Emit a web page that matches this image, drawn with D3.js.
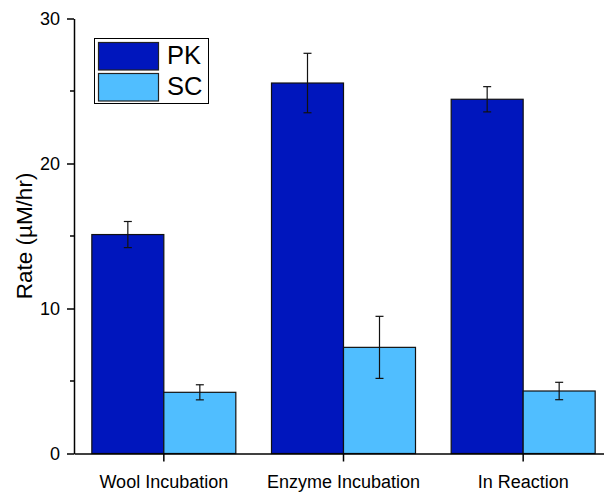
<!DOCTYPE html>
<html><head><meta charset="utf-8">
<script src="https://cdn.jsdelivr.net/npm/d3@7"></script>
<style>body{margin:0;background:#fff}svg{display:block}text{font-family:"Liberation Sans",Arial,sans-serif;fill:#000}</style>
</head><body>
<svg id="c" width="604" height="495"></svg>
<script>
const categories = ["Wool Incubation", "Enzyme Incubation", "In Reaction"];
const seriesNames = ["PK", "SC"];
const pkValues = [15.1, 25.55, 24.43];
const pkErrors = [0.9, 2.05, 0.87];
const scValues = [4.22, 7.32, 4.31];
const scErrors = [0.52, 2.14, 0.6];
const yTicks = [0, 10, 20, 30];
const yMinorTicks = [5, 15, 25];
const colors = {PK: "#0016BD", SC: "#50BEFF"};

const svg = d3.select("#c");
const mLeft = 74, mBottom = 453.5, mTop = 18.5;
const x = d3.scaleBand().domain(categories).range([mLeft, 613]);
const y = d3.scaleLinear().domain([0, 30]).range([mBottom, mTop]);
const barW = 72;

const data = [];
categories.forEach((c, i) => {
  data.push({cat: c, s: "PK", v: pkValues[i], e: pkErrors[i], off: -barW});
  data.push({cat: c, s: "SC", v: scValues[i], e: scErrors[i], off: 0});
});

const g = svg.append("g");
g.selectAll("rect.bar").data(data).join("rect")
  .attr("x", d => x(d.cat) + x.bandwidth()/2 + d.off)
  .attr("y", d => y(d.v))
  .attr("width", barW)
  .attr("height", d => y(0) - y(d.v))
  .attr("fill", d => colors[d.s])
  .attr("stroke", "#111").attr("stroke-width", 1.2);

const eb = g.selectAll("g.eb").data(data).join("g").attr("stroke", "#111").attr("stroke-width", 1.2);
eb.append("line")
  .attr("x1", d => x(d.cat) + x.bandwidth()/2 + d.off + barW/2)
  .attr("x2", d => x(d.cat) + x.bandwidth()/2 + d.off + barW/2)
  .attr("y1", d => y(d.v + d.e)).attr("y2", d => y(d.v - d.e));
[1, -1].forEach(sg => {
  eb.append("line")
    .attr("x1", d => x(d.cat) + x.bandwidth()/2 + d.off + barW/2 - 4)
    .attr("x2", d => x(d.cat) + x.bandwidth()/2 + d.off + barW/2 + 4)
    .attr("y1", d => y(d.v + sg*d.e)).attr("y2", d => y(d.v + sg*d.e));
});

// y axis
const ya = svg.append("g").attr("transform", `translate(${mLeft},0)`)
  .call(d3.axisLeft(y).tickValues(yTicks).tickSize(7).tickPadding(7).tickSizeOuter(0));
ya.select(".domain").attr("stroke", "#000").attr("stroke-width", 1.5);
ya.selectAll(".tick line").attr("stroke-width", 1.5);
ya.selectAll(".tick text").style("font-size", "18px").style("font-family", "Liberation Sans, Arial, sans-serif");
ya.selectAll("line.minor").data(yMinorTicks).join("line").attr("class", "minor")
  .attr("x1", -4).attr("x2", 0).attr("y1", d => y(d)).attr("y2", d => y(d))
  .attr("stroke", "#000").attr("stroke-width", 1.5);

// x axis
const xa = svg.append("g").attr("transform", `translate(0,${mBottom})`)
  .call(d3.axisBottom(x).tickSize(0).tickPadding(21.5).tickSizeOuter(0));
xa.select(".domain").attr("stroke", "#000").attr("stroke-width", 1.5);
xa.selectAll(".tick text").style("font-size", "18px").style("font-family", "Liberation Sans, Arial, sans-serif");
xa.selectAll("line.sep").data(categories).join("line").attr("class", "sep")
  .attr("x1", d => x(d) + x.bandwidth()/2).attr("x2", d => x(d) + x.bandwidth()/2)
  .attr("y1", 0).attr("y2", 8).attr("stroke", "#000").attr("stroke-width", 1.5);

// y label
svg.append("text").attr("transform", "translate(32,236) rotate(-90)")
  .attr("text-anchor", "middle").style("font-size", "22.5px").text("Rate (µM/hr)");

// legend
const lg = svg.append("g");
lg.append("rect").attr("x", 94.5).attr("y", 38.5).attr("width", 114).attr("height", 65)
  .attr("fill", "#fff").attr("stroke", "#000").attr("stroke-width", 1);
seriesNames.forEach((s, i) => {
  lg.append("rect").attr("x", 98.5).attr("y", 42.5 + i*31).attr("width", 60).attr("height", 27.5)
    .attr("fill", colors[s]).attr("stroke", "#222").attr("stroke-width", 1.2);
  lg.append("text").attr("x", 167).attr("y", 63.5 + i*31).style("font-size", "25.5px").text(s);
});
</script>
</body></html>
